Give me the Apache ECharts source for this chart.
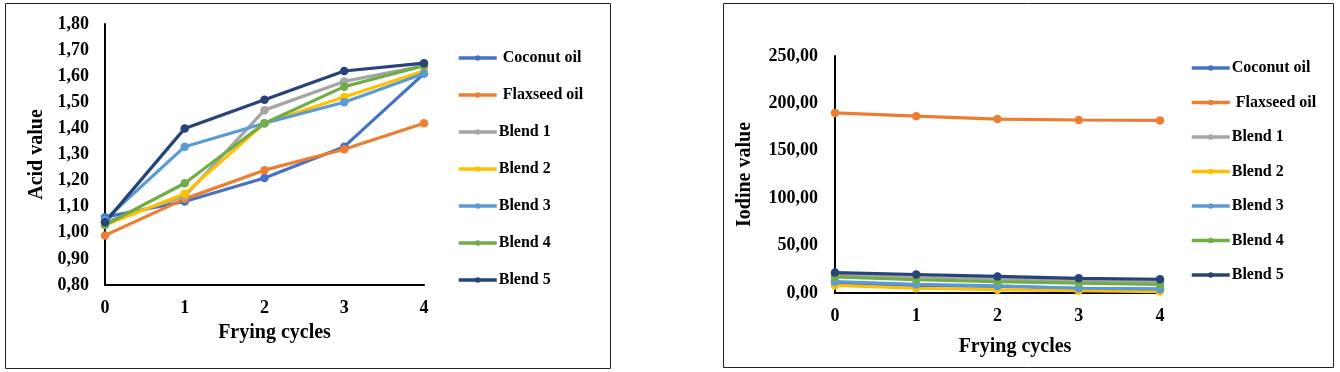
<!DOCTYPE html>
<html>
<head>
<meta charset="utf-8">
<script src="https://cdn.jsdelivr.net/npm/echarts@6/dist/echarts.min.js"></script>
<style>html,body{margin:0;padding:0;background:#fff}#c{width:1340px;height:372px}</style>
</head>
<body>
<div id="c"></div>
<script>
const cycles = ['0', '1', '2', '3', '4'];
const seriesNames = ['Coconut oil', 'Flaxseed oil', 'Blend 1', 'Blend 2', 'Blend 3', 'Blend 4', 'Blend 5'];
const colors = ['#4472C4', '#ED7D31', '#A5A5A5', '#FFC000', '#5B9BD5', '#70AD47', '#264478'];

// Acid value
const acidCoconut  = [1.06, 1.12, 1.21, 1.33, 1.61];
const acidFlaxseed = [0.99, 1.13, 1.24, 1.32, 1.42];
const acidBlend1   = [1.04, 1.14, 1.47, 1.58, 1.64];
const acidBlend2   = [1.03, 1.15, 1.42, 1.52, 1.62];
const acidBlend3   = [1.05, 1.33, 1.42, 1.50, 1.61];
const acidBlend4   = [1.03, 1.19, 1.42, 1.56, 1.64];
const acidBlend5   = [1.04, 1.40, 1.51, 1.62, 1.65];

// Iodine value
const iodCoconut  = [10.0, 8.0, 7.0, 5.0, 4.0];
const iodFlaxseed = [190.0, 186.5, 183.5, 182.5, 182.0];
const iodBlend1   = [19.0, 17.0, 15.0, 13.0, 12.0];
const iodBlend2   = [8.0, 5.0, 3.5, 2.5, 1.5];
const iodBlend3   = [12.0, 9.0, 7.5, 5.0, 4.0];
const iodBlend4   = [17.0, 14.0, 12.0, 10.5, 9.0];
const iodBlend5   = [21.5, 19.5, 17.5, 15.5, 14.5];

const acidData = [acidCoconut, acidFlaxseed, acidBlend1, acidBlend2, acidBlend3, acidBlend4, acidBlend5];
const iodData  = [iodCoconut, iodFlaxseed, iodBlend1, iodBlend2, iodBlend3, iodBlend4, iodBlend5];

const FONT = '"Liberation Serif", "Times New Roman", serif';
const fmt = v => v.toFixed(2).replace('.', ',');

function mkSeries(dataArr, idx) {
  return dataArr.map((d, i) => ({
    name: seriesNames[i],
    type: 'line',
    xAxisIndex: idx,
    yAxisIndex: idx,
    data: d,
    symbol: 'circle',
    symbolSize: 8.5,
    color: colors[i],
    lineStyle: { width: 3.2, color: colors[i] },
    itemStyle: { color: colors[i] },
    animation: false
  }));
}

const axisCommon = {
  axisLine: { show: true, lineStyle: { color: '#000', width: 2 } },
  axisTick: { show: false },
  splitLine: { show: false },
  axisLabel: { color: '#000', fontFamily: FONT, fontWeight: 'bold', fontSize: 18 },
  nameTextStyle: { color: '#000', fontFamily: FONT, fontWeight: 'bold', fontSize: 20 }
};

const legendText = { color: '#000', fontFamily: FONT, fontWeight: 'bold', fontSize: 16, lineHeight: 16, padding: [0, 0, 0, -3] };

const chart = echarts.init(document.getElementById('c'), null, { renderer: 'canvas' });
chart.setOption({
  backgroundColor: '#fff',
  animation: false,
  graphic: [
    { type: 'rect', shape: { x: 5.5, y: 3.5, width: 605, height: 365 }, style: { fill: 'none', stroke: '#222', lineWidth: 1 } },
    { type: 'rect', shape: { x: 723.5, y: 3.5, width: 610, height: 364 }, style: { fill: 'none', stroke: '#222', lineWidth: 1 } }
  ],
  grid: [
    { left: 105, top: 24, width: 319, height: 261 },
    { left: 835, top: 56, width: 325, height: 237 }
  ],
  legend: [
    {
      data: seriesNames, orient: 'vertical', left: 452, top: 45,
      itemWidth: 38, itemHeight: 7, itemGap: 21,
      lineStyle: { width: 3.5 },
      formatter: n => (n === 'Coconut oil' || n === 'Flaxseed oil') ? ' ' + n : n,
      textStyle: legendText
    },
    {
      data: seriesNames, orient: 'vertical', left: 1185, top: 55,
      itemWidth: 38, itemHeight: 7, itemGap: 18.5,
      lineStyle: { width: 3.5 },
      formatter: n => (n === 'Flaxseed oil') ? ' ' + n : n,
      textStyle: legendText
    }
  ],
  xAxis: [
    Object.assign({}, axisCommon, {
      gridIndex: 0, type: 'category', data: cycles, boundaryGap: false,
      name: 'Frying cycles', nameLocation: 'middle', nameGap: 38,
      axisLabel: Object.assign({}, axisCommon.axisLabel, { margin: 14 }),
      nameTextStyle: Object.assign({}, axisCommon.nameTextStyle, { padding: [0, 0, 0, 20] })
    }),
    Object.assign({}, axisCommon, {
      gridIndex: 1, type: 'category', data: cycles, boundaryGap: false,
      name: 'Frying cycles', nameLocation: 'middle', nameGap: 44,
      axisLabel: Object.assign({}, axisCommon.axisLabel, { margin: 14 }),
      nameTextStyle: Object.assign({}, axisCommon.nameTextStyle, { padding: [0, 0, 0, 35] })
    })
  ],
  yAxis: [
    Object.assign({}, axisCommon, {
      gridIndex: 0, type: 'value', min: 0.8, max: 1.8, interval: 0.1,
      name: 'Acid value', nameLocation: 'middle', nameRotate: 90, nameGap: 58,
      axisLabel: Object.assign({}, axisCommon.axisLabel, { margin: 16, formatter: fmt })
    }),
    Object.assign({}, axisCommon, {
      gridIndex: 1, type: 'value', min: 0, max: 250, interval: 50,
      name: 'Iodine value', nameLocation: 'middle', nameRotate: 90, nameGap: 80,
      axisLabel: Object.assign({}, axisCommon.axisLabel, { margin: 17, formatter: fmt })
    })
  ],
  series: mkSeries(acidData, 0).concat(mkSeries(iodData, 1))
});
</script>
</body>
</html>
